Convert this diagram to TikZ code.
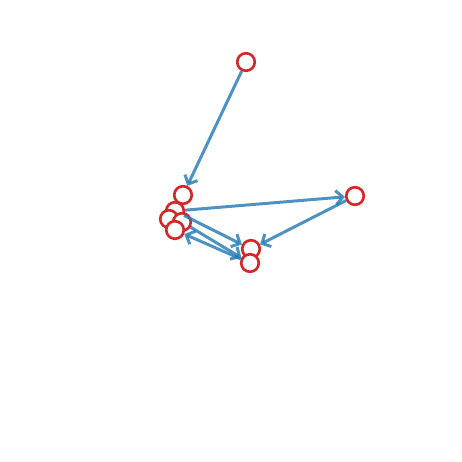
\documentclass[tikz,border=0pt]{standalone}
\usepackage{fontspec}
\setsansfont{DejaVu Sans}
\usetikzlibrary{arrows.meta}
\definecolor{nodered}{RGB}{214,39,40}
\definecolor{edgeblue}{RGB}{31,119,180}
\begin{document}
\begin{tikzpicture}[x=0.02cm,y=-0.02cm,
    vert/.style={circle,draw=nodered,line width=1.5pt,fill=white,
      inner sep=0pt,minimum size=10pt,font=\sffamily\fontsize{4}{4}\selectfont,text=white},
    edge/.style={draw=edgeblue,draw opacity=0.8,line width=1.7pt,
      -{Straight Barb[length=4pt,width=8pt]}},
    ]
\useasboundingbox (0,0) rectangle (462,462);
\node[vert] (a) at (246,62) {4};
\node[vert] (b) at (183,195) {2};
\node[vert] (r) at (355,196) {9};
\node[vert] (c) at (175,211) {5};
\node[vert] (d) at (169,219) {1};
\node[vert] (e) at (182,222) {0};
\node[vert] (f) at (175,230) {6};
\node[vert] (g) at (251,249) {3};
\node[vert] (h) at (250,263) {8};
\draw[edge] (a) -- (b);
\draw[edge] (c) -- (r);
\draw[edge] (r) -- (g);
\draw[edge] (c) -- (g);
\draw[edge] (e) -- (h);
\draw[edge] (h) -- (f);
\end{tikzpicture}
\end{document}
